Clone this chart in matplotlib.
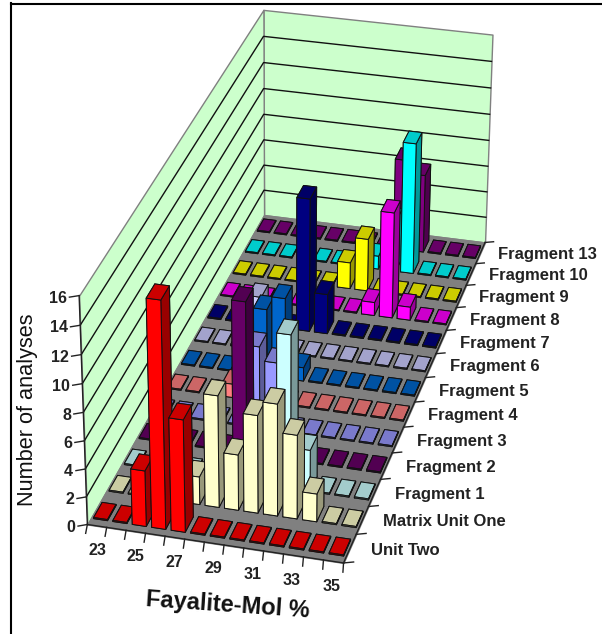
import numpy as np
import matplotlib
matplotlib.use('Agg')
import matplotlib.pyplot as plt
from mpl_toolkits.mplot3d import proj3d
from mpl_toolkits.mplot3d.art3d import Poly3DCollection

plt.rcParams['font.family'] = ['Liberation Sans', 'DejaVu Sans']

W, H = 602, 634

fayalite = [23, 24, 25, 26, 27, 28, 29, 30, 31, 32, 33, 34, 35]
series = ['Unit Two', 'Matrix Unit One', 'Fragment 1', 'Fragment 2', 'Fragment 3',
          'Fragment 4', 'Fragment 5', 'Fragment 6', 'Fragment 7', 'Fragment 8',
          'Fragment 9', 'Fragment 10', 'Fragment 13']
colors = ['#ff0000', '#ffffcc', '#ccffff', '#660066', '#9999ff', '#ff8080', '#0066cc',
          '#ccccff', '#000080', '#ff00ff', '#ffff00', '#00ffff', '#800080']

unit_two = {25: 4, 26: 16, 27: 8}
matrix_one = {27: 2, 28: 8, 29: 4, 30: 7, 31: 8, 32: 6, 33: 2}
fragment_1 = {31: 11, 32: 3}
fragment_2 = {28: 11}
fragment_3 = {28: 6, 29: 5}
fragment_4 = {26: 1, 27: 4}
fragment_5 = {27: 5, 28: 6, 29: 1}
fragment_6 = {26: 4}
fragment_7 = {28: 10, 29: 3}
fragment_8 = {31: 1, 32: 8, 33: 1}
fragment_9 = {29: 2, 30: 4}
fragment_10 = {30: 1, 31: 4, 32: 10}
fragment_13 = {31: 7, 32: 6}
counts = [unit_two, matrix_one, fragment_1, fragment_2, fragment_3, fragment_4, fragment_5,
          fragment_6, fragment_7, fragment_8, fragment_9, fragment_10, fragment_13]

z_ticks = [0, 2, 4, 6, 8, 10, 12, 14, 16]
x_labels = [23, 25, 27, 29, 31, 33, 35]

nx, ny, zmax = len(fayalite), len(series), 16

# camera, solved from the corners of the plot box: (x, y, z) -> pixel
corners = [((0, 0, 0), (88, 525)), ((nx, 0, 0), (343, 563)), ((nx, ny, 0), (485, 242)),
           ((0, ny, 0), (264, 215)), ((0, 0, zmax), (79, 295)), ((0, ny, zmax), (263, 10)),
           ((nx, ny, zmax), (493, 35))]


def solve_camera(pts):
    rows = []
    for (x, y, z), (u, v) in pts:
        rows.append([x, y, z, 1, 0, 0, 0, 0, -u * x, -u * y, -u * z, -u])
        rows.append([0, 0, 0, 0, x, y, z, 1, -v * x, -v * y, -v * z, -v])
    m = np.linalg.svd(np.array(rows, dtype=float))[2][-1].reshape(3, 4)
    if m[2, 3] < 0:
        m = -m
    return m / m[2, 3]


fig = plt.figure(figsize=(W / 100, H / 100), dpi=100)
ax = fig.add_axes([0, 0, 1, 1], projection='3d', computed_zorder=False)
ax.set_axis_off()
ax.apply_aspect = lambda position=None: None

cam = solve_camera(corners)
vl = ax.viewLim
sx = (vl.x1 - vl.x0) / W
sy = (vl.y1 - vl.y0) / H
proj = np.array([sx * cam[0] + vl.x0 * cam[2],
                 vl.y1 * cam[2] - sy * cam[1],
                 [0, 0, 0, -1],
                 cam[2]])
ax.get_proj = lambda: proj

order = 0


def next_z():
    global order
    order += 1
    return order


def shade(c, f):
    return tuple(np.array(matplotlib.colors.to_rgb(c)) * f)


def label(x, y, z, s, **kw):
    px, py, _ = proj3d.proj_transform(x, y, z, proj)
    ax.text2D(px, py, s, transform=ax.transData, color='#222222', fontweight='bold',
              fontsize=kw.pop('fontsize', 11.5), zorder=order, **kw)


# walls and floor
wall = '#ccffcc'
ax.add_collection3d(Poly3DCollection([[(0, ny, 0), (nx, ny, 0), (nx, ny, zmax), (0, ny, zmax)]],
                                     facecolor=wall, edgecolor='#808080', linewidth=1, zorder=next_z()))
ax.add_collection3d(Poly3DCollection([[(0, 0, 0), (0, ny, 0), (0, ny, zmax), (0, 0, zmax)]],
                                     facecolor=wall, edgecolor='#808080', linewidth=1, zorder=next_z()))
ax.add_collection3d(Poly3DCollection([[(0, 0, 0), (nx, 0, 0), (nx, ny, 0), (0, ny, 0)]],
                                     facecolor='#808080', edgecolor='#808080', linewidth=1, zorder=next_z()))
for t in z_ticks[1:-1]:
    ax.plot([0, 0, nx], [0, ny, ny], [t, t, t], color='#111111', lw=1, zorder=next_z())

# bars, back row first so the front ones cover them
bar_w, bar_d = 0.72, 0.55
for j in range(ny - 1, -1, -1):
    for i, fa in enumerate(fayalite):
        h = counts[j].get(fa, 0.08)
        c = colors[j]
        faces = [shade(c, 0.5), shade(c, 0.8), c, c, shade(c, 0.6), shade(c, 0.6)]
        ax.bar3d(i + 0.5 - bar_w / 2, j + 0.5 - bar_d / 2, 0, bar_w, bar_d, h, color=faces,
                 shade=False, edgecolor='#111111', linewidth=0.7, zorder=next_z())

# axes lines, ticks and labels
tz = next_z()
ax.plot([0, nx, nx], [0, 0, ny], [0, 0, 0], color='#222222', lw=1, zorder=tz)
ax.plot([0, 0], [0, 0], [0, zmax], color='#222222', lw=1, zorder=tz)
for t in z_ticks:
    ax.plot([-0.4, 0], [-0.1, 0], [t, t], color='#222222', lw=1, zorder=tz)
    label(-0.5, -0.15, t, str(t), ha='right', va='center')
for i in range(nx + 1):
    ax.plot([i + 0.16, i], [-0.3, 0], [0, 0], color='#222222', lw=1, zorder=tz)
for v in x_labels:
    idx = fayalite.index(v)
    label(idx + 1.15 - 0.02 * idx, -0.8, 0, str(v), ha='center', va='center')
for j, name in enumerate(series):
    ax.plot([nx, nx + 0.45], [j, j + 0.08], [0, 0], color='#222222', lw=1, zorder=tz)
    label(nx + 1.0, j + 0.55, 0, name, ha='left', va='center', fontsize=12)
ax.plot([nx, nx + 0.45], [ny, ny + 0.08], [0, 0], color='#222222', lw=1, zorder=tz)

fig.text(28 / W, 1 - 410 / H, 'Number of analyses', rotation=90, ha='center', va='center',
         fontsize=15.7, color='#111111')
fig.text(228 / W, 1 - 605 / H, 'Fayalite-Mol %', rotation=-4, ha='center', va='center',
         fontsize=17, fontweight='bold', color='#111111')

# picture frame
fig.add_artist(plt.Line2D([11 / W, 11 / W], [0, 1 - 3 / H], color='black', lw=1.5))
fig.add_artist(plt.Line2D([11 / W, 1], [1 - 4 / H, 1 - 4 / H], color='black', lw=1.5))

fig.savefig('out.png', dpi=100)
